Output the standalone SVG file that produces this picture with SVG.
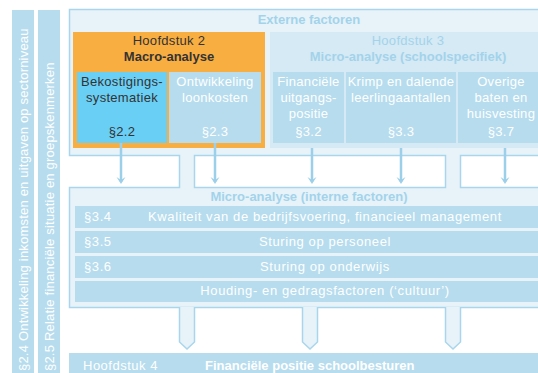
<svg xmlns="http://www.w3.org/2000/svg" width="538" height="373" viewBox="0 0 538 373">
<style>
text{font-family:"Liberation Sans",Arial,sans-serif;font-size:13px}
.w{fill:#ffffff}
.d{fill:#333333}
.b{font-weight:bold}
.t{fill:#a3d3eb}
.c{text-anchor:middle}
.ls{letter-spacing:0.3px}
.row{letter-spacing:0.6px}
.vt{letter-spacing:0.2px}
.bar{fill:#b6dcee}
.frame{fill:#e7f3f9;stroke:#a9d6ec;stroke-width:1.5}
.cell{fill:#b6dcee}
.arr{stroke:#9ccfe9;stroke-width:2.5;fill:none}
</style>
<defs>
<marker id="ah" markerWidth="8" markerHeight="10" refX="5" refY="4.5" orient="auto" markerUnits="userSpaceOnUse" viewBox="0 0 8 9">
<path d="M0,0 L3,4.5 L0,9 L7,4.5 Z" fill="#9ccfe9"/>
</marker>
</defs>
<rect width="538" height="373" fill="#ffffff"/>

<g id="bar-2-4">
<rect class="bar" x="12" y="10" width="22" height="363"/>
<text class="w vt" transform="translate(27.5,371) rotate(-90)">§2.4 Ontwikkeling inkomsten en uitgaven op sectorniveau</text>
</g>
<g id="bar-2-5">
<rect class="bar" x="38" y="10" width="22" height="363"/>
<text class="w vt" transform="translate(53.5,371) rotate(-90)">§2.5 Relatie financiële situatie en groepskenmerken</text>
</g>

<g id="frame">
<path class="frame" fill-rule="evenodd" d="M69.5,9.5 H548 V155.5 H460.5 V187.5 H548 V307.5 H69.5 V187.5 H179.5 V155.5 H69.5 Z M194.5,155.5 H445.5 V187.5 H194.5 Z"/>
<text class="t b c" x="309" y="24">Externe factoren</text>
</g>

<g id="hoofdstuk2">
<rect x="73" y="32" width="192" height="116" fill="#f9ae42"/>
<text class="d c ls" x="169" y="45">Hoofdstuk 2</text>
<text class="d c b" x="169" y="61">Macro-analyse</text>
</g>
<g id="p2-2">
<rect x="77" y="72" width="90" height="71" fill="#6acff5"/>
<text class="d c ls" x="122" y="86">Bekostigings-</text>
<text class="d c ls" x="122" y="102">systematiek</text>
<text class="d c ls" x="122" y="136">§2.2</text>
</g>
<g id="p2-3">
<rect class="cell" x="169" y="72" width="92" height="71"/>
<text class="w c ls" x="215" y="86">Ontwikkeling</text>
<text class="w c ls" x="215" y="102">loonkosten</text>
<text class="w c ls" x="215" y="136">§2.3</text>
</g>

<g id="hoofdstuk3">
<rect x="270" y="32" width="276" height="116" fill="#d5eaf4"/>
<text class="t c ls" x="408" y="45">Hoofdstuk 3</text>
<text class="t c b" x="408" y="61">Micro-analyse (schoolspecifiek)</text>
</g>
<g id="p3-2">
<rect class="cell" x="273" y="72" width="71" height="71"/>
<text class="w c ls" x="308.5" y="86">Financiële</text>
<text class="w c ls" x="308.5" y="102">uitgangs-</text>
<text class="w c ls" x="308.5" y="118">positie</text>
<text class="w c ls" x="308.5" y="136">§3.2</text>
</g>
<g id="p3-3">
<rect class="cell" x="346" y="72" width="110" height="71"/>
<text class="w c ls" x="401" y="86">Krimp en dalende</text>
<text class="w c ls" x="401" y="102">leerlingaantallen</text>
<text class="w c ls" x="401" y="136">§3.3</text>
</g>
<g id="p3-7">
<rect class="cell" x="458" y="72" width="86" height="71"/>
<text class="w c ls" x="501" y="86">Overige</text>
<text class="w c ls" x="501" y="102">baten en</text>
<text class="w c ls" x="501" y="118">huisvesting</text>
<text class="w c ls" x="501" y="136">§3.7</text>
</g>

<g id="micro-intern">
<text class="t b c" x="309" y="201">Micro-analyse (interne factoren)</text>
</g>
<g id="p3-4">
<rect class="cell" x="75" y="206" width="470" height="22"/>
<text class="w row" x="84" y="221">§3.4</text>
<text class="w c row" x="325" y="221">Kwaliteit van de bedrijfsvoering, financieel management</text>
</g>
<g id="p3-5">
<rect class="cell" x="75" y="231" width="470" height="22"/>
<text class="w row" x="84" y="246">§3.5</text>
<text class="w c row" x="325" y="246">Sturing op personeel</text>
</g>
<g id="p3-6">
<rect class="cell" x="75" y="256" width="470" height="22"/>
<text class="w row" x="84" y="271">§3.6</text>
<text class="w c row" x="325" y="271">Sturing op onderwijs</text>
</g>
<g id="houding">
<rect class="cell" x="75" y="281" width="470" height="21"/>
<text class="w c row" x="325" y="295">Houding- en gedragsfactoren (‘cultuur’)</text>
</g>

<g id="hoofdstuk4">
<rect class="bar" x="69" y="353" width="479" height="20"/>
<text class="w" x="83" y="370" style="letter-spacing:0.5px">Hoofdstuk 4</text>
<text class="w b" x="205" y="370">Financiële positie schoolbesturen</text>
</g>

<g id="connectors">
<line class="arr" x1="121" y1="143" x2="121" y2="182" marker-end="url(#ah)"/>
<line class="arr" x1="215" y1="143" x2="215" y2="182" marker-end="url(#ah)"/>
<line class="arr" x1="312" y1="148" x2="312" y2="182" marker-end="url(#ah)"/>
<line class="arr" x1="401" y1="148" x2="401" y2="182" marker-end="url(#ah)"/>
<line class="arr" x1="505" y1="148" x2="505" y2="182" marker-end="url(#ah)"/>
<path class="frame" d="M179.5,307 V342 L187,349 L194.5,342 V307"/>
<path class="frame" d="M302.5,307 V342 L310,349 L317.5,342 V307"/>
<path class="frame" d="M445.5,307 V342 L453,349 L460.5,342 V307"/>
</g>
</svg>
